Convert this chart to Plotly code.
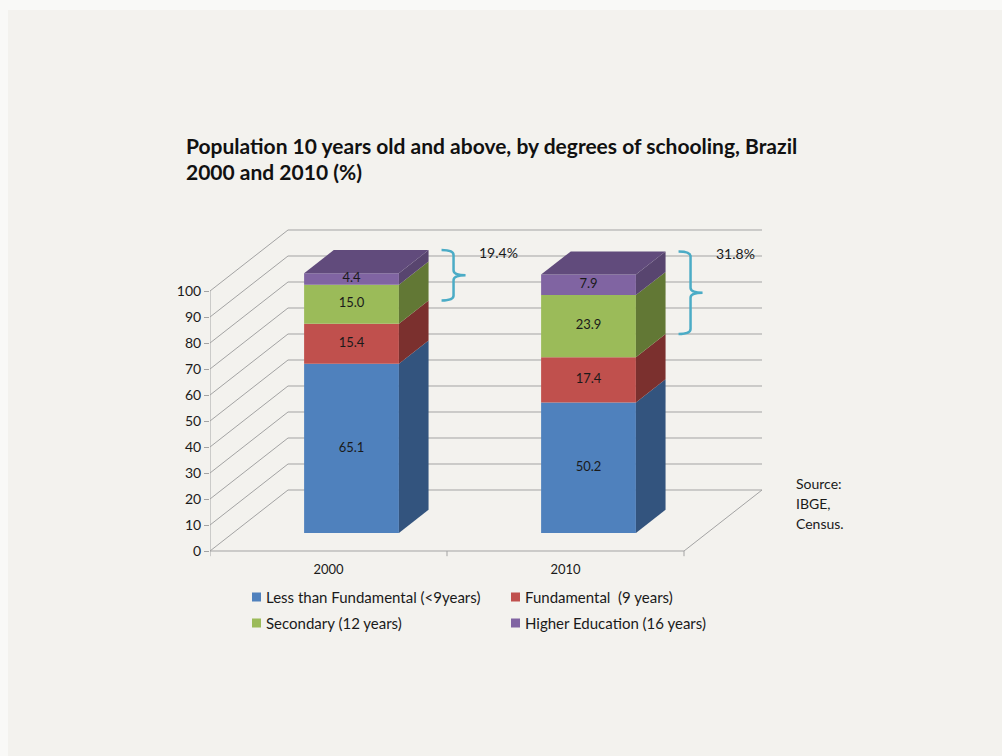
import plotly.graph_objects as go

# ---- data ----
years = ["2000", "2010"]
series_names = [
    "Less than Fundamental (<9years)",
    "Fundamental  (9 years)",
    "Secondary (12 years)",
    "Higher Education (16 years)",
]
less_than_fundamental = [65.1, 50.2]
fundamental = [15.4, 17.4]
secondary = [15.0, 23.9]
higher_education = [4.4, 7.9]
y_ticks = [0, 10, 20, 30, 40, 50, 60, 70, 80, 90, 100]

series_values = [less_than_fundamental, fundamental, secondary, higher_education]

# ---- styling ----
front_colors = ["#4F81BD", "#C0504D", "#9BBB59", "#8064A2"]
side_colors = ["#33547E", "#7B302E", "#627835", "#58456F"]
top_color = "#614B7C"
grid_color = "#A3A3A3"
bracket_color = "#4BACC6"
text_color = "#1A1A1A"
bg_color = "#F3F2EE"
FONT = "Lato"

# ---- page / plot geometry (pixels) ----
W, H = 1002, 756
PX_PER_CAT = 237.0   # horizontal pixels per category slot
PX_PER_PCT = 2.6     # vertical pixels per percentage point
LEFT_PX, RIGHT_PX = 210, 772
TOP_PX, BOTTOM_PX = 222, 560
ZERO_PX = 551

x_range = [0, (RIGHT_PX - LEFT_PX) / PX_PER_CAT]
y_range = [-(BOTTOM_PX - ZERO_PX) / PX_PER_PCT, (ZERO_PX - TOP_PX) / PX_PER_PCT]
PW = RIGHT_PX - LEFT_PX
PH = BOTTOM_PX - TOP_PX

# oblique depth of the 3-D box, in axis units
DEPTH_X = 78 / PX_PER_CAT
DEPTH_Y = 61 / PX_PER_PCT
BAR_FRONT = 0.295   # depth fraction where the bar front face sits
BAR_DEPTH = 0.38    # depth fraction occupied by the bar
BAR_WIDTH = 0.40    # fraction of a category slot


def paper_x(px):
    return (px - LEFT_PX) / PW


def paper_y(py):
    return (BOTTOM_PX - py) / PH


fig = go.Figure()
shapes = []


def line(x0, y0, x1, y1, color=grid_color, width=1):
    shapes.append(dict(type="line", xref="x", yref="y", x0=x0, y0=y0, x1=x1, y1=y1,
                       line=dict(color=color, width=width), layer="below"))


# back wall gridlines and left wall diagonals
for t in y_ticks:
    line(DEPTH_X, t + DEPTH_Y, len(years) + DEPTH_X, t + DEPTH_Y)
    line(0, t, DEPTH_X, t + DEPTH_Y)
# floor edges and front axis lines
line(0, 0, len(years), 0)
line(len(years), 0, len(years) + DEPTH_X, DEPTH_Y)
line(0, 0, 0, 100)
for k in range(len(years) + 1):
    line(k, 0, k, -2)

# ---- 3-D stacked bars ----
ddx = BAR_DEPTH * DEPTH_X
ddy = BAR_DEPTH * DEPTH_Y
base = BAR_FRONT * DEPTH_Y


def poly(xs, ys, color):
    fig.add_trace(go.Scatter(
        x=xs + [xs[0]], y=ys + [ys[0]], mode="lines", fill="toself",
        fillcolor=color, line=dict(width=0, color=color),
        hoverinfo="skip", showlegend=False))


label_x, label_y, label_text = [], [], []
for i, year in enumerate(years):
    xc = i + 0.5 + BAR_FRONT * DEPTH_X
    xl, xr = xc - BAR_WIDTH / 2, xc + BAR_WIDTH / 2
    cum = 0.0
    for s, vals in enumerate(series_values):
        v = vals[i]
        y0, y1 = base + cum, base + cum + v
        # front face
        poly([xl, xr, xr, xl], [y0, y0, y1, y1], front_colors[s])
        # right side face
        poly([xr, xr + ddx, xr + ddx, xr], [y0, y0 + ddy, y1 + ddy, y1], side_colors[s])
        label_x.append(xc)
        label_y.append((y0 + y1) / 2)
        label_text.append(f"{v:.1f}")
        cum += v
    # top face of the stack
    top = base + cum
    poly([xl, xr, xr + ddx, xl + ddx], [top, top, top + ddy, top + ddy], top_color)

    # bracket spanning the two upper segments (secondary + higher)
    upper = secondary[i] + higher_education[i]
    yt = top + ddy
    yb = top - upper + ddy
    ym = (yt + yb) / 2
    xback = xr + ddx
    xa = xback + 13 / PX_PER_CAT
    xb = xback + 25 / PX_PER_CAT
    xt = xback + 37 / PX_PER_CAT
    r = 5 / PX_PER_PCT
    path = (f"M {xa},{yt} Q {xb},{yt} {xb},{yt - r} "
            f"L {xb},{ym + r} Q {xb},{ym} {xt},{ym} "
            f"Q {xb},{ym} {xb},{ym - r} "
            f"L {xb},{yb + r} Q {xb},{yb} {xa},{yb}")
    shapes.append(dict(type="path", xref="x", yref="y", path=path,
                       line=dict(color=bracket_color, width=2.5), layer="above"))
    fig.add_annotation(x=xback + 70 / PX_PER_CAT, y=yt - 1.0, xref="x", yref="y",
                       text=f"{upper:.1f}%", showarrow=False,
                       font=dict(family=FONT, size=14, color=text_color))

fig.add_trace(go.Scatter(
    x=label_x, y=label_y, text=label_text, mode="text",
    textfont=dict(family=FONT, size=13, color=text_color),
    hoverinfo="skip", showlegend=False))

# ---- title ----
fig.add_annotation(x=paper_x(184), y=paper_y(145), xref="paper", yref="paper",
                   xanchor="left", yanchor="middle", showarrow=False,
                   text="<b>Population 10 years old and above, by degrees of schooling, Brazil</b>",
                   font=dict(family=FONT, size=21, color="#111111"))
fig.add_annotation(x=paper_x(184), y=paper_y(172), xref="paper", yref="paper",
                   xanchor="left", yanchor="middle", showarrow=False,
                   text="<b>2000 and 2010 (%)</b>",
                   font=dict(family=FONT, size=21, color="#111111"))

# ---- source note ----
for text, py in zip(["Source:", "IBGE,", "Census."], [483, 503, 523]):
    fig.add_annotation(x=paper_x(794), y=paper_y(py), xref="paper", yref="paper",
                       xanchor="left", yanchor="middle", showarrow=False, text=text,
                       font=dict(family=FONT, size=14, color=text_color))

# ---- legend (two columns) ----
legend_pos = [(252, 597), (511, 597), (252, 623), (511, 623)]
for s, (lx, ly) in enumerate(legend_pos):
    shapes.append(dict(type="rect", xref="paper", yref="paper",
                       x0=paper_x(lx), x1=paper_x(lx + 9),
                       y0=paper_y(ly + 4.5), y1=paper_y(ly - 4.5),
                       fillcolor=front_colors[s], line=dict(width=0)))
    fig.add_annotation(x=paper_x(lx + 12), y=paper_y(ly), xref="paper", yref="paper",
                       xanchor="left", yanchor="middle", showarrow=False,
                       text=series_names[s],
                       font=dict(family=FONT, size=15, color=text_color))

# light slide border strips
shapes.append(dict(type="rect", xref="paper", yref="paper",
                   x0=paper_x(0), x1=paper_x(W), y0=paper_y(10), y1=paper_y(0),
                   fillcolor="#F9F9F7", line=dict(width=0), layer="below"))
shapes.append(dict(type="rect", xref="paper", yref="paper",
                   x0=paper_x(0), x1=paper_x(8), y0=paper_y(H), y1=paper_y(0),
                   fillcolor="#F9F9F7", line=dict(width=0), layer="below"))

fig.update_layout(
    width=W, height=H,
    margin=dict(l=LEFT_PX, r=W - RIGHT_PX, t=TOP_PX, b=H - BOTTOM_PX),
    paper_bgcolor=bg_color, plot_bgcolor="rgba(0,0,0,0)",
    shapes=shapes, showlegend=False,
    xaxis=dict(range=x_range, showgrid=False, zeroline=False, showline=False,
               tickvals=[i + 0.5 for i in range(len(years))], ticktext=years,
               ticks="", tickfont=dict(family=FONT, size=13, color=text_color),
               fixedrange=True),
    yaxis=dict(range=y_range, showgrid=False, zeroline=False, showline=False,
               tickvals=y_ticks, ticks="outside", ticklen=5, tickcolor=grid_color,
               tickfont=dict(family=FONT, size=14, color=text_color), fixedrange=True),
)

fig.write_html("out.html")
